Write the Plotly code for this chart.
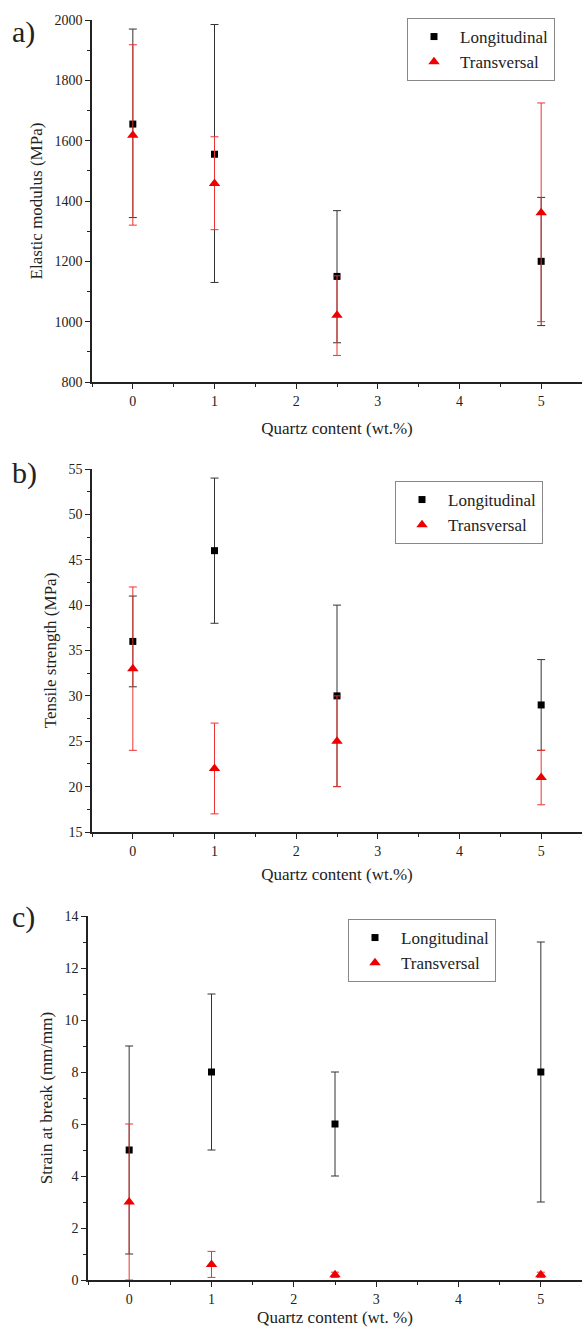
import plotly.graph_objects as go

# ---- data ----
quartz = [0, 1, 2.5, 5]

# a) Elastic modulus (MPa)
mod_long = [1655, 1555, 1150, 1200]
mod_long_hi = [1970, 1985, 1368, 1412]
mod_long_lo = [1345, 1130, 930, 987]
mod_trans = [1618, 1458, 1021, 1361]
mod_trans_hi = [1918, 1613, 1152, 1725]
mod_trans_lo = [1320, 1305, 888, 1000]

# b) Tensile strength (MPa)
ts_long = [36, 46, 30, 29]
ts_long_hi = [41, 54, 40, 34]
ts_long_lo = [31, 38, 20, 24]
ts_trans = [33, 22, 25, 21]
ts_trans_hi = [42, 27, 30, 24]
ts_trans_lo = [24, 17, 20, 18]

# c) Strain at break (mm/mm)
sb_long = [5, 8, 6, 8]
sb_long_hi = [9, 11, 8, 13]
sb_long_lo = [1, 5, 4, 3]
sb_trans = [3, 0.6, 0.2, 0.2]
sb_trans_hi = [6, 1.1, 0.3, 0.3]
sb_trans_lo = [0, 0.1, 0.1, 0.1]

panel_labels = ["a)", "b)", "c)"]
y_titles = ["Elastic modulus (MPa)", "Tensile strength (MPa)", "Strain at break (mm/mm)"]
x_titles = ["Quartz content (wt.%)", "Quartz content (wt.%)", "Quartz content (wt. %)"]

FONT = "Liberation Serif"
W, H = 582, 1327

fig = go.Figure()

panels = [
    (mod_long, mod_long_hi, mod_long_lo, mod_trans, mod_trans_hi, mod_trans_lo),
    (ts_long, ts_long_hi, ts_long_lo, ts_trans, ts_trans_hi, ts_trans_lo),
    (sb_long, sb_long_hi, sb_long_lo, sb_trans, sb_trans_hi, sb_trans_lo),
]
# pixel geometry (top, bottom, left) of each plot area
pix = [(20, 382, 92), (469, 832, 92), (916, 1280, 88)]
yranges = [(800, 2000, 200, 100), (15, 55, 5, 2.5), (0, 14, 2, 1)]
legend_pos = [(407, 18), (395, 481), (348, 919)]
x_standoff = [15, 11, 7]
label_top = [13, 454, 898]

def diff_hi(v, hi):
    return [h - x for x, h in zip(v, hi)]

def diff_lo(v, lo):
    return [x - l for x, l in zip(v, lo)]

for i, (yl, yl_hi, yl_lo, yt, yt_hi, yt_lo) in enumerate(panels):
    n = "" if i == 0 else str(i + 1)
    xa, ya = "x" + n, "y" + n
    leg = "legend" + n
    fig.add_trace(go.Scatter(
        x=quartz, y=yl, mode="markers", name="Longitudinal",
        xaxis=xa, yaxis=ya, legend=leg,
        marker=dict(symbol="square", size=7, color="black"),
        error_y=dict(type="data", symmetric=False, array=diff_hi(yl, yl_hi),
                     arrayminus=diff_lo(yl, yl_lo), color="#333333",
                     thickness=1, width=4),
    ))
    fig.add_trace(go.Scatter(
        x=quartz, y=yt, mode="markers", name="Transversal",
        xaxis=xa, yaxis=ya, legend=leg,
        marker=dict(symbol="triangle-up", size=10, color="#ee0000"),
        error_y=dict(type="data", symmetric=False, array=diff_hi(yt, yt_hi),
                     arrayminus=diff_lo(yt, yt_lo), color="#ee3333",
                     thickness=1, width=4),
    ))

layout = dict(
    width=W, height=H, margin=dict(l=0, r=0, t=0, b=0, autoexpand=False),
    paper_bgcolor="white", plot_bgcolor="white",
    font=dict(family=FONT, color="#222222", size=13),
    showlegend=True,
)

axis_common = dict(
    showline=True, linecolor="#222222", linewidth=1.5, mirror=False,
    showgrid=False, zeroline=False, ticks="outside", ticklen=5, tickwidth=1.2,
    tickcolor="#222222", automargin=False,
)

for i in range(3):
    n = "" if i == 0 else str(i + 1)
    top, bot, left = pix[i]
    ydom = [1 - bot / H, 1 - top / H]
    y0, y1, dt, mdt = yranges[i]
    layout["xaxis" + n] = dict(
        axis_common, domain=[left / W, 1], range=[-0.5, 5.5],
        tickmode="linear", tick0=0, dtick=1,
        minor=dict(ticks="outside", ticklen=3, tickcolor="#222222", dtick=0.5, tick0=0),
        anchor="y" + n, tickfont=dict(size=14, family=FONT),
        title=dict(text=x_titles[i], font=dict(size=17, family=FONT), standoff=x_standoff[i]),
    )
    layout["yaxis" + n] = dict(
        axis_common, domain=ydom, range=[y0, y1],
        tickmode="linear", tick0=y0, dtick=dt,
        minor=dict(ticks="outside", ticklen=3, tickcolor="#222222", dtick=mdt, tick0=y0),
        anchor="x" + n, tickfont=dict(size=14, family=FONT),
        title=dict(text=y_titles[i], font=dict(size=17, family=FONT), standoff=8),
    )
    lx, ly = legend_pos[i]
    layout["legend" + n] = dict(
        x=lx / W, y=1 - ly / H, xanchor="left", yanchor="top",
        bordercolor="#888888", borderwidth=1, bgcolor="white",
        font=dict(size=17, family=FONT, color="#222222"),
        itemwidth=42, tracegroupgap=0,
    )

fig.update_layout(**layout)

for i in range(3):
    fig.add_annotation(
        text=panel_labels[i], xref="paper", yref="paper",
        x=10 / W, y=1 - label_top[i] / H, xanchor="left", yanchor="top",
        showarrow=False, font=dict(size=30, family=FONT, color="#222222"),
    )

fig.write_html("out.html", config={"displayModeBar": False},
               post_script="document.body.style.margin='0';")
